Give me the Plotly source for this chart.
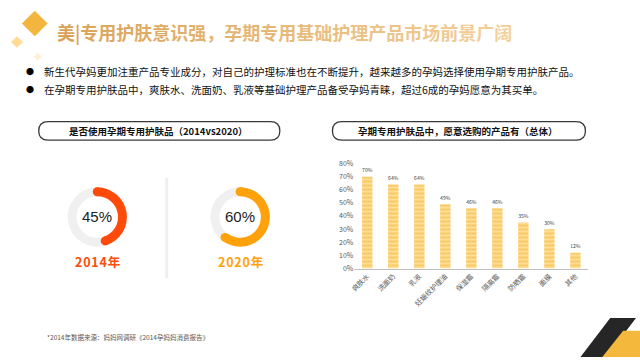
import math
import plotly.graph_objects as go

W, H = 640, 360

# ---------------- data ----------------
title_text = "美|专用护肤意识强，孕期专用基础护理产品市场前景广阔"
bullets = [
    "新生代孕妈更加注重产品专业成分，对自己的护理标准也在不断提升，越来越多的孕妈选择使用孕期专用护肤产品。",
    "在孕期专用护肤品中，爽肤水、洗面奶、乳液等基础护理产品备受孕妈青睐，超过6成的孕妈愿意为其买单。",
]
left_box_title = "是否使用孕期专用护肤品（2014vs2020）"
right_box_title = "孕期专用护肤品中，愿意选购的产品有（总体）"
donut_years = ["2014年", "2020年"]
donut_values = [45, 60]
donut_colors = ["#FF4A0A", "#FFA10A"]
categories = ["爽肤水", "洗面奶", "乳液", "妊娠纹护理油", "保湿霜", "隔离霜", "防晒霜", "面膜", "其他"]
bar_values = [70, 64, 64, 49, 46, 46, 35, 30, 12]
footnote = "*2014年数据来源：妈妈网调研《2014孕妈妈消费报告》"

CJK = "Noto Sans CJK SC, Noto Sans, sans-serif"


def px(x):
    return x / W


def py(y):
    return 1 - y / H


fig = go.Figure()

# ---------------- bar chart ----------------
fig.add_trace(go.Bar(
    x=categories, y=bar_values,
    text=[f"{v}%" for v in bar_values], textposition="outside",
    textfont=dict(size=7.5, color="#404040"), cliponaxis=False,
    marker=dict(color="#FFE3A0", line=dict(width=0),
                pattern=dict(shape="-", fgcolor="#F6B02A", size=4, solidity=0.6)),
    xaxis="x", yaxis="y", showlegend=False, hoverinfo="skip",
))

# ---------------- donuts ----------------
centers = [(93, 217), (237, 217)]
R = 30.5
HOLE = 0.70
for (cx, cy), v, col in zip(centers, donut_values, donut_colors):
    fig.add_trace(go.Pie(
        values=[v, 100 - v], hole=HOLE, sort=False, direction="clockwise", rotation=0,
        marker=dict(colors=[col, "#F0F0F0"], line=dict(width=0)),
        textinfo="none", hoverinfo="skip", showlegend=False,
        domain=dict(x=[px(cx - R), px(cx + R)], y=[py(cy + R), py(cy - R)]),
    ))

shapes = []
annotations = []

# rounded caps on the donut arcs
mid_r = R * (1 + HOLE) / 2
cap_r = R * (1 - HOLE) / 2
for (cx, cy), v, col in zip(centers, donut_values, donut_colors):
    for ang in (90.0, 90.0 - 3.6 * v):
        a = math.radians(ang)
        ex = cx + mid_r * math.cos(a)
        ey = cy - mid_r * math.sin(a)
        shapes.append(dict(type="circle", xref="paper", yref="paper",
                           x0=px(ex - cap_r), x1=px(ex + cap_r), y0=py(ey + cap_r), y1=py(ey - cap_r),
                           fillcolor=col, line=dict(width=0), layer="above"))

# ---------------- decorations ----------------
def diamond(cx, cy, r, color):
    return dict(type="path", xref="paper", yref="paper",
                path=f"M {px(cx)} {py(cy - r)} L {px(cx + r)} {py(cy)} L {px(cx)} {py(cy + r)} L {px(cx - r)} {py(cy)} Z",
                fillcolor=color, line=dict(width=0), layer="above")

shapes += [diamond(30, 18, 13, "#F2B63E"), diamond(12, 37, 6, "#FFDC96"), diamond(33, 52, 4, "#FFF0D4")]

# corner parallelograms
shapes.append(dict(type="path", xref="paper", yref="paper",
                   path=f"M {px(580)} {py(361)} L {px(610)} {py(321)} L {px(636)} {py(321)} L {px(606)} {py(361)} Z",
                   fillcolor="#262626", line=dict(width=0)))
shapes.append(dict(type="path", xref="paper", yref="paper",
                   path=f"M {px(602)} {py(361)} L {px(623)} {py(334)} L {px(641)} {py(334)} L {px(641)} {py(361)} Z",
                   fillcolor="#F4B83C", line=dict(width=0)))

# rounded boxes
def rbox(x0, x1, y0, y1):
    r = (y1 - y0) / 2
    p = (f"M {px(x0 + r)} {py(y0)} L {px(x1 - r)} {py(y0)} "
         f"Q {px(x1)} {py(y0)} {px(x1)} {py(y0 + r)} Q {px(x1)} {py(y1)} {px(x1 - r)} {py(y1)} "
         f"L {px(x0 + r)} {py(y1)} Q {px(x0)} {py(y1)} {px(x0)} {py(y0 + r)} Q {px(x0)} {py(y0)} {px(x0 + r)} {py(y0)} Z")
    return dict(type="path", xref="paper", yref="paper", path=p,
                fillcolor="rgba(0,0,0,0)", line=dict(color="#3A3A3A", width=1.3))

shapes.append(rbox(34, 277, 119, 138))
shapes.append(rbox(330, 585, 119, 138))

# divider
shapes.append(dict(type="line", xref="paper", yref="paper",
                   x0=px(163), x1=px(163), y0=py(177), y1=py(280),
                   line=dict(color="#EFEFEF", width=3)))

# ---------------- texts ----------------
c0 = (0xDA, 0xA2, 0x58)
c1 = (0xF3, 0xD0, 0x9A)
n = len(title_text)
parts = []
for i, ch in enumerate(title_text):
    t = i / (n - 1)
    c = tuple(round(a + (b - a) * t) for a, b in zip(c0, c1))
    parts.append(f"<span style='color:rgb{c}'>{ch}</span>")
annotations.append(dict(x=px(50), y=py(27), xref="paper", yref="paper", xanchor="left", yanchor="middle",
                        text="<b>" + "".join(parts) + "</b>", showarrow=False,
                        font=dict(size=18, family=CJK)))

for yb, txt in zip([67, 86], bullets):
    annotations.append(dict(x=px(25), y=py(yb), xref="paper", yref="paper", xanchor="center", yanchor="middle",
                            text="●", showarrow=False, font=dict(size=8, color="#000000", family=CJK)))
    annotations.append(dict(x=px(37), y=py(yb), xref="paper", yref="paper", xanchor="left", yanchor="middle",
                            text=txt, showarrow=False, font=dict(size=10.5, color="#111111", family=CJK)))

annotations.append(dict(x=px(155), y=py(128.5), xref="paper", yref="paper", xanchor="center", yanchor="middle",
                        text=f"<b>{left_box_title}</b>", showarrow=False,
                        font=dict(size=9.5, color="#111111", family=CJK)))
annotations.append(dict(x=px(457), y=py(128.5), xref="paper", yref="paper", xanchor="center", yanchor="middle",
                        text=f"<b>{right_box_title}</b>", showarrow=False,
                        font=dict(size=9.5, color="#111111", family=CJK)))

for (cx, cy), v, col, yr in zip(centers, donut_values, donut_colors, donut_years):
    annotations.append(dict(x=px(cx), y=py(cy), xref="paper", yref="paper", xanchor="center", yanchor="middle",
                            text=f"{v}%", showarrow=False,
                            font=dict(size=15, color="#222222", family="Liberation Sans, Arial")))
    spaced = "\u200a".join(yr)
    annotations.append(dict(x=px(cx), y=py(263), xref="paper", yref="paper", xanchor="center", yanchor="middle",
                            text=f"<b>{spaced}</b>", showarrow=False,
                            font=dict(size=12.5, color=col, family=CJK)))

annotations.append(dict(x=px(40), y=py(340), xref="paper", yref="paper", xanchor="left", yanchor="middle",
                        text=footnote, showarrow=False, font=dict(size=6.5, color="#595959", family=CJK)))

fig.update_layout(
    width=W, height=H, margin=dict(l=0, r=0, t=0, b=0),
    paper_bgcolor="#FFFFFF", plot_bgcolor="rgba(0,0,0,0)",
    font=dict(family=CJK),
    bargap=0.60,
    xaxis=dict(domain=[px(352), px(588)], anchor="y", showgrid=False, tickangle=-45,
               tickfont=dict(size=7, color="#595959"), showline=True, linecolor="#BFBFBF", linewidth=1.3,
               ticks="", fixedrange=True),
    yaxis=dict(domain=[py(270), py(162)], anchor="x", range=[0, 80], dtick=10, ticksuffix="%",
               showgrid=False, zeroline=False, showline=False, tickfont=dict(size=7, color="#595959"),
               ticks="", fixedrange=True),
    shapes=shapes, annotations=annotations,
)

fig.write_html("out.html")
